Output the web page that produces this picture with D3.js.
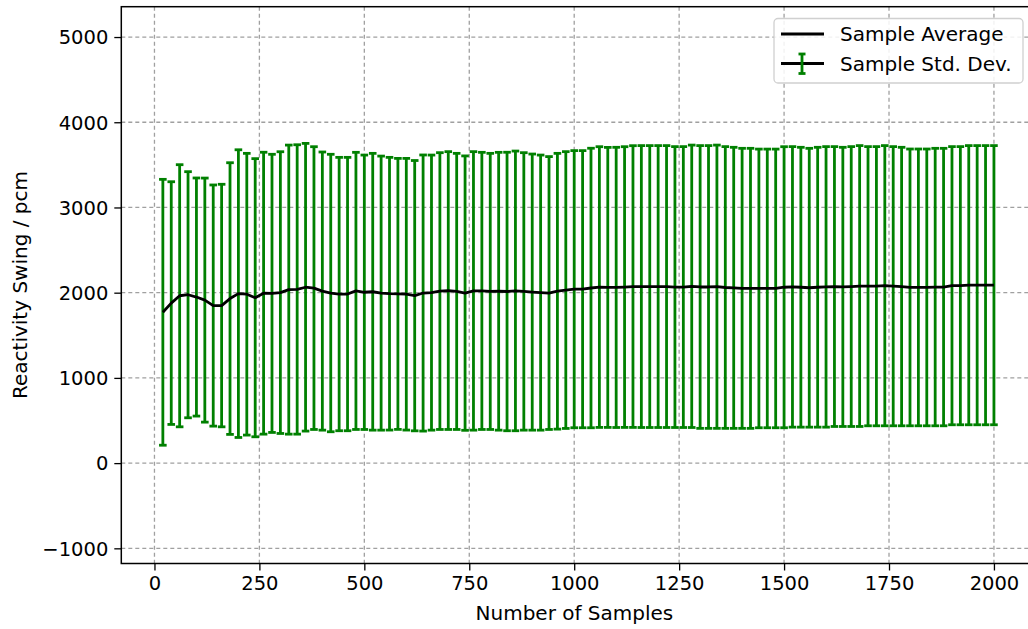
<!DOCTYPE html>
<html>
<head>
<meta charset="utf-8">
<script src="https://cdn.jsdelivr.net/npm/d3@7"></script>
<style>
  html, body { margin: 0; padding: 0; background: #fff; }
  svg { display: block; }
  text { font-family: "DejaVu Sans", sans-serif; fill: #000; }
</style>
</head>
<body>
<svg id="chart" width="1028" height="629"></svg>
<script>
// ---- data ----
const samples = [20,40,60,80,100,120,140,160,180,200,220,240,260,280,300,320,340,360,380,400,
  420,440,460,480,500,520,540,560,580,600,620,640,660,680,700,720,740,760,780,800,
  820,840,860,880,900,920,940,960,980,1000,1020,1040,1060,1080,1100,1120,1140,1160,1180,1200,
  1220,1240,1260,1280,1300,1320,1340,1360,1380,1400,1420,1440,1460,1480,1500,1520,1540,1560,1580,1600,
  1620,1640,1660,1680,1700,1720,1740,1760,1780,1800,1820,1840,1860,1880,1900,1920,1940,1960,1980,2000];

const sampleAverage = [1770,1878,1964,1976,1949,1913,1849,1849,1931,1989,1982,1941,1994,1992,2001,2036,2038,2064,2054,2019,
  1996,1984,1984,2021,2005,2011,1995,1988,1986,1982,1965,1996,2001,2019,2025,2015,1995,2021,2021,2015,
  2017,2014,2021,2015,2007,2001,1996,2017,2031,2041,2041,2055,2066,2062,2062,2066,2072,2072,2072,2072,
  2072,2066,2066,2075,2067,2067,2070,2061,2057,2051,2051,2050,2050,2050,2064,2068,2064,2058,2064,2068,
  2072,2068,2072,2078,2076,2076,2082,2076,2072,2062,2062,2062,2066,2066,2082,2082,2088,2088,2088,2088];

const sampleStd = [1560,1424,1538,1444,1397,1432,1415,1423,1594,1688,1653,1632,1654,1632,1653,1696,1698,1688,1659,1632,
  1628,1604,1604,1626,1610,1624,1608,1600,1590,1594,1586,1620,1614,1624,1630,1620,1610,1634,1626,1620,
  1630,1634,1641,1628,1620,1614,1601,1618,1624,1626,1626,1640,1647,1643,1644,1647,1653,1654,1654,1654,
  1654,1648,1648,1657,1659,1659,1662,1653,1649,1643,1643,1635,1635,1635,1649,1646,1642,1636,1642,1646,
  1642,1638,1642,1648,1638,1638,1644,1638,1634,1624,1624,1624,1628,1628,1632,1632,1638,1638,1638,1638];

const xTicks = [0,250,500,750,1000,1250,1500,1750,2000];
const yTicks = [-1000,0,1000,2000,3000,4000,5000];
const xLabel = "Number of Samples";
const yLabel = "Reactivity Swing / pcm";
const legendLabels = ["Sample Average", "Sample Std. Dev."];

// ---- layout ----
const svg = d3.select("#chart");
const pL = 121.3, pR = 1035.5, pT = 6.7, pB = 563.5;
const x = d3.scaleLinear().domain([-79, 2099]).range([pL, pR]);
const y = d3.scaleLinear().domain([-1178, 5356]).range([pB, pT]);
const green = "#008000";
const fs = 19.5;

const data = samples.map((s, i) => ({ s, m: sampleAverage[i], sd: sampleStd[i] }));

// grid
const grid = svg.append("g");
grid.selectAll(".gx").data(xTicks).join("line")
  .attr("x1", d => x(d)).attr("x2", d => x(d))
  .attr("y1", pT).attr("y2", pB)
  .attr("stroke", "#a0a0a0").attr("stroke-width", 1.3).attr("stroke-dasharray", "4,3");
grid.selectAll(".gy").data(yTicks).join("line")
  .attr("x1", pL).attr("x2", pR)
  .attr("y1", d => y(d)).attr("y2", d => y(d))
  .attr("stroke", "#a0a0a0").attr("stroke-width", 1.3).attr("stroke-dasharray", "4,3");

// error bars
const eb = svg.append("g").attr("stroke", green).attr("stroke-width", 2.8);
eb.selectAll(".v").data(data).join("line")
  .attr("x1", d => x(d.s)).attr("x2", d => x(d.s))
  .attr("y1", d => y(d.m - d.sd)).attr("y2", d => y(d.m + d.sd));
eb.selectAll(".ct").data(data).join("line")
  .attr("x1", d => x(d.s) - 3.8).attr("x2", d => x(d.s) + 3.8)
  .attr("y1", d => y(d.m + d.sd)).attr("y2", d => y(d.m + d.sd));
eb.selectAll(".cb").data(data).join("line")
  .attr("x1", d => x(d.s) - 3.8).attr("x2", d => x(d.s) + 3.8)
  .attr("y1", d => y(d.m - d.sd)).attr("y2", d => y(d.m - d.sd));

// average line
svg.append("path").datum(data)
  .attr("fill", "none").attr("stroke", "#000").attr("stroke-width", 2.8)
  .attr("stroke-linejoin", "round")
  .attr("d", d3.line().x(d => x(d.s)).y(d => y(d.m)));

// axes
const xAxis = svg.append("g").attr("transform", `translate(0,${pB})`)
  .call(d3.axisBottom(x).tickValues(xTicks).tickSize(7).tickPadding(6).tickFormat(d3.format("d")));
const yAxis = svg.append("g").attr("transform", `translate(${pL},0)`)
  .call(d3.axisLeft(y).tickValues(yTicks).tickSize(7).tickPadding(6)
    .tickFormat(d => d < 0 ? "\u2212" + Math.abs(d) : String(d)));
[xAxis, yAxis].forEach(a => {
  a.select(".domain").remove();
  a.selectAll(".tick line").attr("stroke", "#000").attr("stroke-width", 1.3);
  a.selectAll(".tick text").attr("font-size", fs).attr("font-family", "DejaVu Sans").attr("fill", "#000");
});
yAxis.selectAll(".tick text").attr("dy", "0.35em");

// spines
svg.append("rect").attr("x", pL).attr("y", pT)
  .attr("width", pR - pL).attr("height", pB - pT)
  .attr("fill", "none").attr("stroke", "#000").attr("stroke-width", 1.5);

// labels
svg.append("text").attr("x", (pL + pR) / 2 - 4).attr("y", 620)
  .attr("text-anchor", "middle").attr("font-size", fs + 0.5).text(xLabel);
svg.append("text").attr("transform", "translate(27,285) rotate(-90)")
  .attr("text-anchor", "middle").attr("font-size", fs + 0.5).text(yLabel);

// legend
const lg = svg.append("g");
lg.append("rect").attr("x", 774).attr("y", 18.5).attr("width", 249).attr("height", 64.5)
  .attr("rx", 4).attr("fill", "#fff").attr("fill-opacity", 0.85)
  .attr("stroke", "#d0d0d0").attr("stroke-width", 1.3);
lg.append("line").attr("x1", 781).attr("x2", 824).attr("y1", 34).attr("y2", 34)
  .attr("stroke", "#000").attr("stroke-width", 2.8);
lg.append("line").attr("x1", 781).attr("x2", 824).attr("y1", 63.5).attr("y2", 63.5)
  .attr("stroke", "#000").attr("stroke-width", 2.8);
lg.append("line").attr("x1", 802).attr("x2", 802).attr("y1", 54).attr("y2", 73.5)
  .attr("stroke", green).attr("stroke-width", 2.8);
lg.append("line").attr("x1", 798.5).attr("x2", 805.5).attr("y1", 54).attr("y2", 54)
  .attr("stroke", green).attr("stroke-width", 2.8);
lg.append("line").attr("x1", 798.5).attr("x2", 805.5).attr("y1", 73.5).attr("y2", 73.5)
  .attr("stroke", green).attr("stroke-width", 2.8);
lg.selectAll(".lt").data(legendLabels).join("text")
  .attr("x", 840).attr("y", (d, i) => 41 + i * 30)
  .attr("font-size", fs + 0.5).text(d => d);
</script>
</body>
</html>
